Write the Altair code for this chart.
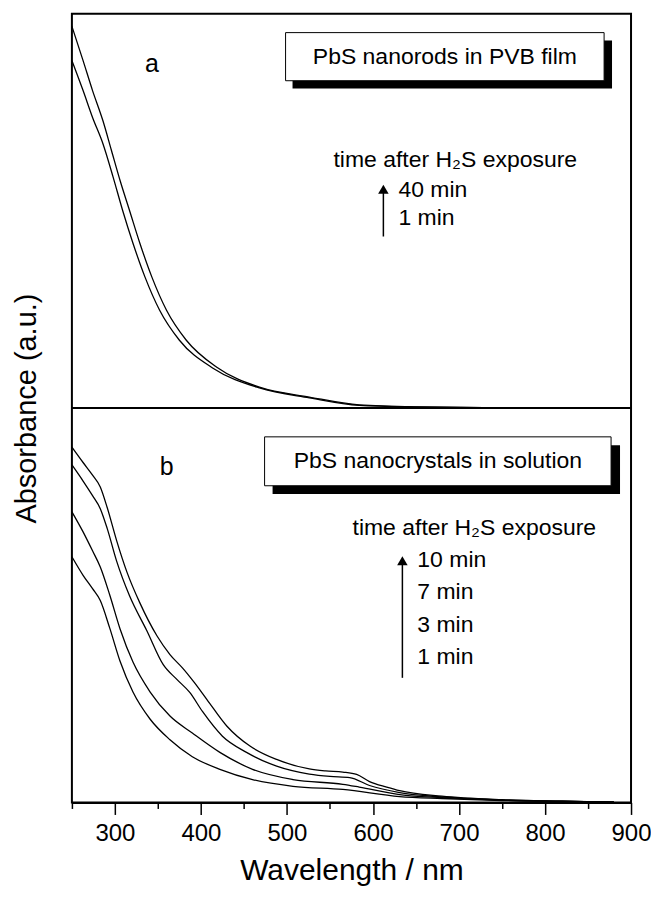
import altair as alt
import pandas as pd

# ---------------- data ----------------
# Panel a: PbS nanorods in PVB film (normalised absorbance within panel)
wl_a_40 = [250, 263, 274, 286, 296, 306, 317, 329, 343, 360, 383, 418, 468, 526, 584, 650, 750, 880]
abs_a_40 = [0.968, 0.881, 0.805, 0.729, 0.653, 0.577, 0.501, 0.418, 0.332, 0.248, 0.172, 0.104, 0.053, 0.028, 0.008, 0.003, 0.001, 0.0]
wl_a_1 = [250, 263, 274, 286, 298, 309, 321, 335, 352, 375, 414, 468, 526, 584, 650, 750, 880]
abs_a_1 = [0.881, 0.805, 0.737, 0.671, 0.585, 0.501, 0.418, 0.332, 0.248, 0.172, 0.101, 0.051, 0.026, 0.007, 0.003, 0.001, 0.0]

# Panel b: PbS nanocrystals in solution
wl_b_10 = [250, 263, 274, 283, 291, 302, 314, 329, 349, 364, 379, 392, 407, 430, 457, 488, 526, 545, 565, 581, 596, 616, 631, 680, 750, 820, 880]
abs_b_10 = [0.901, 0.862, 0.830, 0.800, 0.748, 0.664, 0.584, 0.506, 0.422, 0.375, 0.340, 0.305, 0.261, 0.194, 0.143, 0.109, 0.085, 0.080, 0.077, 0.071, 0.053, 0.039, 0.030, 0.016, 0.007, 0.003, 0.001]
wl_b_7 = [250, 263, 274, 283, 291, 302, 317, 337, 356, 372, 387, 402, 425, 453, 488, 526, 550, 573, 596, 631, 680, 750, 820, 880]
abs_b_7 = [0.856, 0.815, 0.778, 0.745, 0.695, 0.612, 0.524, 0.436, 0.350, 0.312, 0.279, 0.230, 0.168, 0.127, 0.092, 0.072, 0.066, 0.063, 0.043, 0.025, 0.014, 0.006, 0.003, 0.001]
wl_b_3 = [250, 263, 274, 283, 294, 306, 321, 341, 364, 390, 422, 460, 507, 565, 584, 631, 680, 750, 820, 880]
abs_b_3 = [0.737, 0.686, 0.638, 0.597, 0.526, 0.440, 0.356, 0.280, 0.219, 0.176, 0.127, 0.084, 0.058, 0.046, 0.039, 0.020, 0.012, 0.006, 0.003, 0.001]
wl_b_1 = [250, 263, 274, 283, 294, 306, 321, 341, 364, 390, 422, 460, 507, 565, 631, 680, 750, 820, 880]
abs_b_1 = [0.623, 0.576, 0.542, 0.512, 0.442, 0.358, 0.280, 0.211, 0.159, 0.116, 0.084, 0.058, 0.041, 0.033, 0.015, 0.010, 0.005, 0.002, 0.001]

x_ticks = [250, 300, 350, 400, 450, 500, 550, 600, 650, 700, 750, 800, 850, 900]

panel_titles = ["PbS nanorods in PVB film", "PbS nanocrystals in solution"]
panel_letters = ["a", "b"]
times_a = ["40 min", "1 min"]
times_b = ["10 min", "7 min", "3 min", "1 min"]
legend_head = "time after H\u2082S exposure"

# ---------------- build long table ----------------
rows = []
def add(panel, series, wl, ab):
    for w, a in zip(wl, ab):
        rows.append({"panel": panel, "series": series, "wl": w, "abs": a})

add("a", "a40", wl_a_40, abs_a_40)
add("a", "a1", wl_a_1, abs_a_1)
add("b", "b10", wl_b_10, abs_b_10)
add("b", "b7", wl_b_7, abs_b_7)
add("b", "b3", wl_b_3, abs_b_3)
add("b", "b1", wl_b_1, abs_b_1)
df = pd.DataFrame(rows)

FONT = "Liberation Sans"
xscale = alt.Scale(domain=[250, 900], nice=False, zero=False)
yscale = alt.Scale(domain=[0, 2], nice=False, zero=False)

x_axis = alt.Axis(
    values=x_ticks,
    labelExpr="datum.value % 100 == 0 ? datum.label : ''",
    format="d",
    tickSize={"condition": {"test": "datum.value % 100 != 0", "value": 6}, "value": 12},
    tickColor="black", tickWidth=1.5,
    labelFontSize=24, labelColor="black", labelFont=FONT, labelPadding=7,
    labelFlush=False,
    title="Wavelength / nm", titleFontSize=30, titleFont=FONT,
    titleFontWeight="normal", titleColor="black", titlePadding=10,
    domainColor="black", domainWidth=2, grid=False,
)
y_axis = alt.Axis(
    ticks=False, labels=False, domain=False, grid=False,
    title="Absorbance (a.u.)", titleFontSize=29, titleFont=FONT,
    titleFontWeight="normal", titleColor="black", titlePadding=30,
)

curves = alt.Chart(df).transform_calculate(
    yv="datum.abs + (datum.panel == 'a' ? 1 : 0)"
).mark_line(color="black", strokeWidth=1.3, interpolate="monotone", clip=True).encode(
    x=alt.X("wl:Q", scale=xscale, axis=x_axis),
    y=alt.Y("yv:Q", scale=yscale, axis=y_axis),
    detail="series:N",
)

divider = alt.Chart(pd.DataFrame({"y": [1.0]})).mark_rule(color="black", strokeWidth=2).encode(
    y=alt.Y("y:Q", scale=yscale)
)

# annotation boxes (data coords: wavelength, stacked absorbance 0..2)
shadow_df = pd.DataFrame({
    "x": [506.5, 483.3], "x2": [877.9, 887.2],
    "y": [1.932, 0.906], "y2": [1.810, 0.782],
})
box_df = pd.DataFrame({
    "x": [498.4, 474.0], "x2": [868.7, 876.8],
    "y": [1.952, 0.927], "y2": [1.830, 0.803],
    "cx": [683.6, 675.4], "cy": [1.891, 0.865],
    "label": panel_titles,
})
shadows = alt.Chart(shadow_df).mark_rect(color="black").encode(
    x=alt.X("x:Q", scale=xscale), x2="x2:Q", y=alt.Y("y:Q", scale=yscale), y2="y2:Q"
)
boxes = alt.Chart(box_df).mark_rect(fill="white", stroke="black", strokeWidth=1).encode(
    x=alt.X("x:Q", scale=xscale), x2="x2:Q", y=alt.Y("y:Q", scale=yscale), y2="y2:Q"
)
box_text = alt.Chart(box_df).mark_text(
    font=FONT, fontSize=23, color="black", align="center", baseline="middle"
).encode(x=alt.X("cx:Q", scale=xscale), y=alt.Y("cy:Q", scale=yscale), text="label:N")

letters_df = pd.DataFrame({"x": [342.9, 360.3], "y": [1.873, 0.851], "t": panel_letters})
letters = alt.Chart(letters_df).mark_text(
    font=FONT, fontSize=25, color="black", align="center", baseline="middle"
).encode(x=alt.X("x:Q", scale=xscale), y=alt.Y("y:Q", scale=yscale), text="t:N")

# legend-like notes
notes_df = pd.DataFrame({
    "x": [554.1, 629.6, 629.6, 576.2, 651.6, 651.6, 651.6, 651.6],
    "y": [1.628, 1.552, 1.481, 0.696, 0.615, 0.534, 0.451, 0.370],
    "t": [legend_head] + times_a + [legend_head] + times_b,
})
notes = alt.Chart(notes_df).mark_text(
    font=FONT, fontSize=23, color="black", align="left", baseline="middle"
).encode(x=alt.X("x:Q", scale=xscale), y=alt.Y("y:Q", scale=yscale), text="t:N")

arrows_df = pd.DataFrame({"x": [612.1, 634.2], "top": [1.555, 0.613], "bot": [1.435, 0.316]})
shafts = alt.Chart(arrows_df).mark_rule(color="black", strokeWidth=1.5).encode(
    x=alt.X("x:Q", scale=xscale), y=alt.Y("top:Q", scale=yscale), y2="bot:Q"
)
heads = alt.Chart(arrows_df).mark_point(
    shape="triangle-up", filled=True, color="black", size=110, opacity=1
).encode(x=alt.X("x:Q", scale=xscale), y=alt.Y("top:Q", scale=yscale))

chart = alt.layer(
    curves, divider, shadows, boxes, box_text, letters, notes, shafts, heads
).properties(
    width=560, height=790,
    autosize=alt.AutoSizeParams(type="none"),
    padding={"left": 64, "top": 5, "right": 20, "bottom": 92},
).configure_view(
    stroke="black", strokeWidth=2
)

chart.save("out.html", embed_options={"renderer": "svg", "actions": False})
